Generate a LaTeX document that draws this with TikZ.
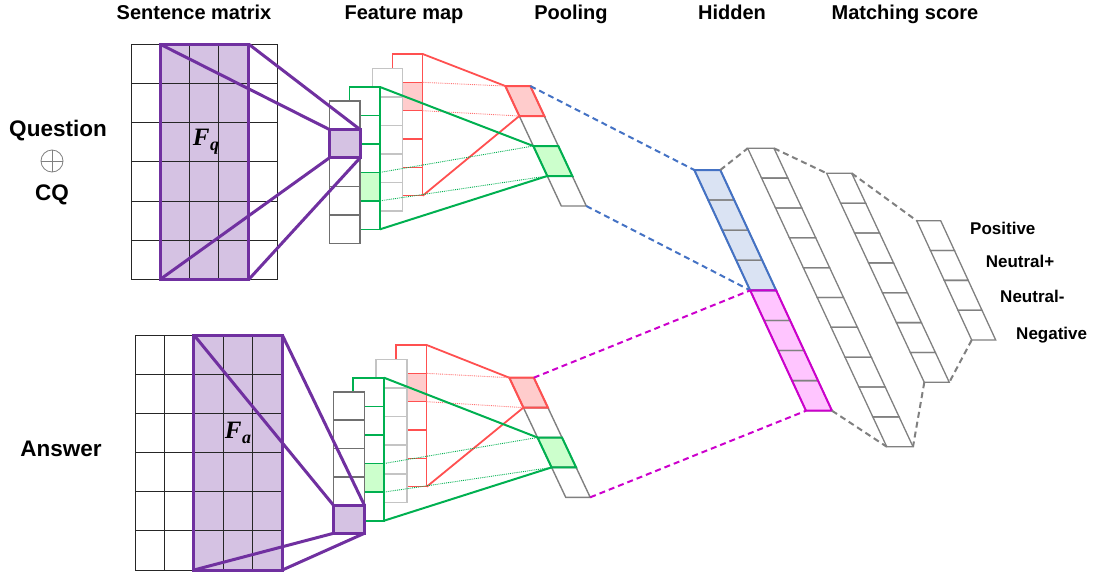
\documentclass[tikz,border=0pt]{standalone}
\usepackage{fontspec}
\setmainfont{Liberation Sans}
\newfontfamily\fserif{Liberation Serif}

\definecolor{pl}{HTML}{7030A0}
\definecolor{plfill}{HTML}{D5C2E3}
\definecolor{gn}{HTML}{00B050}
\definecolor{gnfill}{HTML}{CCFFCC}
\definecolor{rd}{HTML}{FF5050}
\definecolor{rdfill}{HTML}{FFCCCC}
\definecolor{bl}{HTML}{4472C4}
\definecolor{blfill}{HTML}{DAE3F3}
\definecolor{mg}{HTML}{CC00CC}
\definecolor{mgfill}{HTML}{FFC5FF}
\definecolor{gr}{HTML}{808080}
\definecolor{lgr}{HTML}{C4C4C4}
\definecolor{dgr}{HTML}{707070}

% upright feature column: name, x left, x right, y top, cell height, cells,
% stroke style, index of the tinted cell, tint
\newcommand\vcol[9]{%
  \foreach \k in {0,...,#6}{%
    \coordinate (#1-\k-l) at (#2,{#4+\k*#5});
    \coordinate (#1-\k-r) at (#3,{#4+\k*#5});}%
  \pgfmathtruncatemacro\cnext{#8+1}%
  \fill[white] (#1-0-l) rectangle (#1-#6-r);
  \fill[#9] (#1-#8-l) rectangle (#1-\cnext-r);
  \pgfmathtruncatemacro\clast{#6-1}%
  \foreach \k in {1,...,\clast} \draw[#7] (#1-\k-l) -- (#1-\k-r);
  \draw[#7] (#1-0-l) rectangle (#1-#6-r);}

% slanted column corners: name, x0, y0, width, cell height, shift per cell, cells
\newcommand\scoords[7]{%
  \foreach \k in {0,...,#7}{%
    \coordinate (#1-\k-l) at ({#2+\k*#6},{#3+\k*#5});
    \coordinate (#1-\k-r) at ({#2+\k*#6+#4},{#3+\k*#5});}}
% slanted column cells: name, cells, style
\newcommand\scells[3]{%
  \pgfmathtruncatemacro\clast{#2-1}%
  \foreach \k [evaluate=\k as \kn using int(\k+1)] in {0,...,\clast}
    \draw[#3] (#1-\k-l) -- (#1-\k-r) -- (#1-\kn-r) -- (#1-\kn-l) -- cycle;}
% a run of slanted cells: name, first, last boundary, options
\newcommand\sblock[4]{%
  \path[#4] (#1-#2-l) -- (#1-#2-r) -- (#1-#3-r) -- (#1-#3-l) -- cycle;}

\begin{document}
\begin{tikzpicture}[x=1pt,y=-1pt,
  gridline/.style={draw=black!85, line width=0.9pt},
  purp/.style={draw=pl, line width=3pt, line join=miter},
  darkcol/.style={draw=dgr, line width=1.6pt},
  greencol/.style={draw=gn, line width=1.6pt},
  lightcol/.style={draw=lgr, line width=1.6pt},
  redcol/.style={draw=rd, line width=1.4pt},
  poolcell/.style={draw=gr, line width=1.4pt},
  hidcell/.style={draw=gr, line width=1.3pt},
  redlink/.style={draw=rd, line width=1.8pt},
  greenlink/.style={draw=gn, line width=2pt},
  reddot/.style={draw=rd!80, line width=0.9pt, densely dotted},
  greendot/.style={draw=gn, line width=0.9pt, densely dotted},
  dashlink/.style={line width=2pt, dash pattern=on 6pt off 4pt},
  title/.style={font=\fontsize{20}{24}\selectfont\bfseries, anchor=base},
  side/.style={font=\fontsize{22.5}{26}\selectfont\bfseries, anchor=base},
  cls/.style={font=\fontsize{17}{20}\selectfont\bfseries, anchor=base west},
  fname/.style={font=\fontsize{25}{28}\selectfont\fserif\bfseries\itshape}]
\useasboundingbox (0,0) rectangle (1099,579);

% ---------- headings ----------
\node[title] (t-sm) at (194,19) {Sentence matrix};
\node[title] (t-fm) at (404,19) {Feature map};
\node[title] (t-po) at (571,19) {Pooling};
\node[title] (t-hi) at (732,19) {Hidden};
\node[title] (t-ms) at (905,19) {Matching score};

% ---------- input labels ----------
\node[side] (l-q) at (58,136) {Question};
\coordinate (oplus) at (52,161);
\draw[gr, line width=0.8pt] (oplus) circle[radius=11pt];
\draw[gr, line width=0.8pt] ([xshift=-11pt]oplus) -- ([xshift=11pt]oplus)
                             ([yshift=-11pt]oplus) -- ([yshift=11pt]oplus);
\node[side] (l-cq) at (52,200) {CQ};
\node[side] (l-an) at (61,456) {Answer};

% ---------- question sentence matrix ----------
\coordinate (mq-tl) at (160.3,44.3);
\coordinate (mq-tr) at (248.9,44.3);
\coordinate (mq-bl) at (160.3,279.3);
\coordinate (mq-br) at (248.9,279.3);
\fill[plfill] (mq-tl) rectangle (mq-br);
\foreach \i in {0,...,5} \draw[gridline] ({131+\i*29.3},44.3) -- ({131+\i*29.3},279.3);
\foreach \j in {0,...,6} \draw[gridline] (131,{44.3+\j*39.17}) -- (277.5,{44.3+\j*39.17});
\draw[purp] (mq-tl) rectangle (mq-br);
\node[fname] (fq) at (206,142) {F\kern0.5pt\raisebox{-5pt}{\fontsize{18}{18}\selectfont q}};

% ---------- question feature maps (back to front) ----------
\vcol{qr}{392.3}{422.7}{54}{28.34}{5}{redcol}{1}{rdfill}
\vcol{ql}{372.3}{402.3}{68.3}{28.54}{5}{lightcol}{0}{white}
\vcol{qg}{349.3}{380}{87}{28.46}{5}{greencol}{3}{gnfill}
\vcol{qd}{329.3}{360}{101}{28.46}{5}{darkcol}{1}{plfill}
\draw[purp] (qd-1-l) rectangle (qd-2-r);
\draw[purp] (mq-tl) -- (qd-1-l);
\draw[purp] (mq-tr) -- (qd-1-r);
\draw[purp] (mq-bl) -- (qd-2-l);
\draw[purp] (mq-br) -- (qd-2-r);

% ---------- question pooling ----------
\scoords{qp}{505.3}{86}{25}{30}{14}{4}
\sblock{qp}{0}{4}{fill=white}
\sblock{qp}{0}{1}{fill=rdfill}
\sblock{qp}{2}{3}{fill=gnfill}
\scells{qp}{4}{poolcell}
\sblock{qp}{0}{1}{draw=rd, line width=2pt}
\sblock{qp}{2}{3}{draw=gn, line width=2pt}

\draw[redlink] (qr-0-r) -- (qp-0-l);
\draw[redlink] (qr-5-r) -- (qp-1-l);
\draw[reddot] (qr-1-r) -- (qp-0-l);
\draw[reddot] (qr-2-r) -- (qp-1-l);
\draw[greenlink] (qg-0-r) -- (qp-2-l);
\draw[greenlink] (qg-5-r) -- (qp-3-l);
\draw[greendot] (qg-3-r) -- (qp-2-l);
\draw[greendot] (qg-4-r) -- (qp-3-l);

% ---------- answer sentence matrix ----------
\coordinate (ma-tl) at (193.9,335);
\coordinate (ma-tr) at (282.3,335);
\coordinate (ma-bl) at (193.9,570);
\coordinate (ma-br) at (282.3,570);
\fill[plfill] (ma-tl) rectangle (ma-br);
\foreach \i in {0,...,5} \draw[gridline] ({135+\i*29.46},335) -- ({135+\i*29.46},570);
\foreach \j in {0,...,6} \draw[gridline] (135,{335+\j*39.17}) -- (282.3,{335+\j*39.17});
\draw[purp] (ma-tl) rectangle (ma-br);
\node[fname] (fa) at (238,433) {F\kern0.5pt\raisebox{-5pt}{\fontsize{18}{18}\selectfont a}};

% ---------- answer feature maps ----------
\vcol{ar}{396}{426.7}{345}{28.34}{5}{redcol}{1}{rdfill}
\vcol{al}{376}{406.7}{359.3}{28.6}{5}{lightcol}{0}{white}
\vcol{ag}{352.7}{384}{377.7}{28.6}{5}{greencol}{3}{gnfill}
\vcol{ad}{333.3}{364.3}{391.7}{28.33}{5}{darkcol}{4}{plfill}
\draw[purp] (ad-4-l) rectangle (ad-5-r);
\draw[purp] (ma-tl) -- (ad-4-l);
\draw[purp] (ma-tr) -- (ad-4-r);
\draw[purp] (ma-bl) -- (ad-5-l);
\draw[purp] (ma-br) -- (ad-5-r);

% ---------- answer pooling ----------
\scoords{ap}{509.3}{377.7}{24.5}{29.9}{14.1}{4}
\sblock{ap}{0}{4}{fill=white}
\sblock{ap}{0}{1}{fill=rdfill}
\sblock{ap}{2}{3}{fill=gnfill}
\scells{ap}{4}{poolcell}
\sblock{ap}{0}{1}{draw=rd, line width=2pt}
\sblock{ap}{2}{3}{draw=gn, line width=2pt}

\draw[redlink] (ar-0-r) -- (ap-0-l);
\draw[redlink] (ar-5-r) -- (ap-1-l);
\draw[reddot] (ar-1-r) -- (ap-0-l);
\draw[reddot] (ar-2-r) -- (ap-1-l);
\draw[greenlink] (ag-0-r) -- (ap-2-l);
\draw[greenlink] (ag-5-r) -- (ap-3-l);
\draw[greendot] (ag-3-r) -- (ap-2-l);
\draw[greendot] (ag-4-r) -- (ap-3-l);

% ---------- hidden layers ----------
\scoords{h1}{694.3}{170}{26}{30.09}{13.96}{8}
\sblock{h1}{0}{4}{fill=blfill}
\sblock{h1}{4}{8}{fill=mgfill}
\scells{h1}{8}{hidcell}
\sblock{h1}{0}{4}{draw=bl, line width=2pt}
\sblock{h1}{4}{8}{draw=mg, line width=2pt}

\scoords{h2}{747.7}{148.3}{26.3}{29.84}{13.9}{10}
\scells{h2}{10}{hidcell}
\scoords{h3}{826.7}{173.3}{25}{29.86}{13.94}{7}
\scells{h3}{7}{hidcell}
\scoords{h4}{916.7}{220.7}{24}{29.83}{13.75}{4}
\scells{h4}{4}{hidcell}

% ---------- dashed links ----------
\draw[dashlink, bl] (qp-0-r) -- (h1-0-l);
\draw[dashlink, bl] (qp-4-r) -- (h1-4-l);
\draw[dashlink, mg] (ap-0-r) -- (h1-4-l);
\draw[dashlink, mg] (ap-4-r) -- (h1-8-l);
\draw[dashlink, gr] (h1-0-r) -- (h2-0-l);
\draw[dashlink, gr] (h1-8-r) -- (h2-10-l);
\draw[dashlink, gr] (h2-0-r) -- (h3-0-l);
\draw[dashlink, gr] (h3-7-l) -- (h2-10-r);
\draw[dashlink, gr] (h3-0-r) -- (h4-0-l);
\draw[dashlink, gr] (h4-4-l) -- (h3-7-r);

% ---------- classes ----------
\node[cls] (c-pos) at (966.7,234.3) {Positive};
\node[cls] (c-nup) at (982.3,267.3) {Neutral+};
\node[cls] (c-num) at (996.7,302.7) {Neutral-};
\node[cls] (c-neg) at (1012.7,339.3) {Negative};
\end{tikzpicture}
\end{document}
